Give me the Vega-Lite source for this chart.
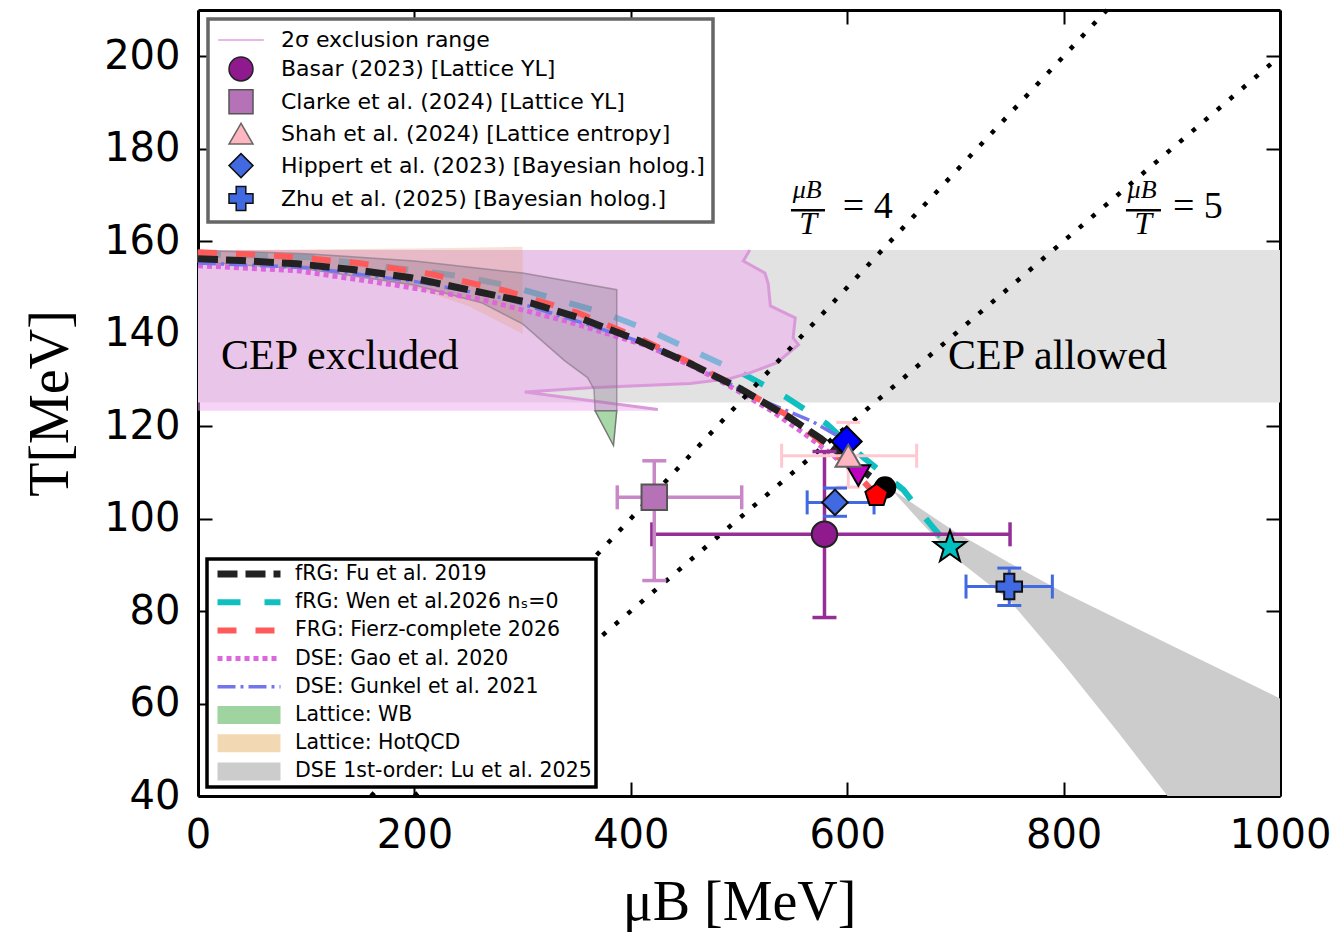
{
  "$schema": "https://vega.github.io/schema/vega-lite/v6.json",
  "width": 1082,
  "height": 786,
  "autosize": {"type": "none"},
  "padding": {"left": 198, "top": 10, "right": 55, "bottom": 137},
  "background": "white",
  "config": {"view": {"stroke": null}, "axis": {"grid": false}, "legend": {"strokeWidth": 3.5}},
  "datasets": {
    "band": [{"mu0": 0, "mu1": 1000, "T0": 125.1, "T1": 158.1}],
    "fu": [{"mu":0,"T":156.2},{"mu":40,"T":155.8},{"mu":92,"T":155.1},{"mu":145,"T":153.8},{"mu":197,"T":152.1},{"mu":252,"T":149.4},{"mu":308,"T":146.6},{"mu":354,"T":143.3},{"mu":407,"T":138.5},{"mu":455,"T":133.5},{"mu":501,"T":128.1},{"mu":547,"T":121.8},{"mu":575,"T":117.4},{"mu":605,"T":112.0},{"mu":635,"T":106.7}],
    "wen": [{"mu":0,"T":157.2},{"mu":58,"T":156.9},{"mu":102,"T":156.5},{"mu":166,"T":154.7},{"mu":240,"T":152.5},{"mu":287,"T":150.4},{"mu":376,"T":144.4},{"mu":418,"T":140.6},{"mu":461,"T":135.9},{"mu":503,"T":131.4},{"mu":544,"T":126.2},{"mu":581,"T":120.5},{"mu":615,"T":113.2},{"mu":652,"T":106.2},{"mu":676,"T":99.0},{"mu":695,"T":93.8}],
    "fz": [{"mu":0,"T":157.6},{"mu":46,"T":157.2},{"mu":80,"T":156.7},{"mu":148,"T":155.3},{"mu":215,"T":152.9},{"mu":284,"T":149.3},{"mu":351,"T":144.5},{"mu":409,"T":138.9},{"mu":455,"T":133.7},{"mu":500,"T":128.3},{"mu":545,"T":122.3},{"mu":575,"T":116.8},{"mu":605,"T":110.6},{"mu":627,"T":105.0}],
    "gao": [{"mu":0,"T":154.7},{"mu":92,"T":153.6},{"mu":185,"T":150.4},{"mu":262,"T":147.4},{"mu":339,"T":142.8},{"mu":416,"T":137.3},{"mu":460,"T":132.6},{"mu":494,"T":128.3},{"mu":530,"T":123.3},{"mu":559,"T":118.6},{"mu":585,"T":114.0},{"mu":610,"T":109.3}],
    "gun": [{"mu":0,"T":155.3},{"mu":100,"T":154.3},{"mu":200,"T":151.3},{"mu":280,"T":147.8},{"mu":340,"T":143.5},{"mu":416,"T":137.7},{"mu":460,"T":133.0},{"mu":519,"T":125.8},{"mu":568,"T":121.0},{"mu":600,"T":116.7}],
    "pinkpoly": [{"i":0,"mu":0,"T":158.1},{"i":1,"mu":510,"T":158.1},{"i":2,"mu":504,"T":155.7},{"i":3,"mu":524,"T":153.1},{"i":4,"mu":527,"T":150.8},{"i":5,"mu":529,"T":146.0},{"i":6,"mu":552,"T":143.4},{"i":7,"mu":550,"T":139.1},{"i":8,"mu":555,"T":137.6},{"i":9,"mu":535,"T":133.7},{"i":10,"mu":510,"T":131.5},{"i":11,"mu":492,"T":130.3},{"i":12,"mu":455,"T":129.2},{"i":13,"mu":362,"T":128.3},{"i":14,"mu":302,"T":127.4},{"i":15,"mu":425,"T":123.6},{"i":16,"mu":425,"T":123.3},{"i":17,"mu":0,"T":123.3}],
    "hotqcd": [{"mu":0,"lo":155.5,"hi":158.0},{"mu":50,"lo":155.2,"hi":158.1},{"mu":100,"lo":154.3,"hi":158.2},{"mu":150,"lo":152.6,"hi":158.3},{"mu":200,"lo":150.0,"hi":158.4},{"mu":250,"lo":146.0,"hi":158.6},{"mu":300,"lo":140.0,"hi":158.8}],
    "wbgrey": [{"i":0,"mu":0,"T":158.0},{"i":1,"mu":100,"T":157.3},{"i":2,"mu":200,"T":155.7},{"i":3,"mu":300,"T":153.1},{"i":4,"mu":387,"T":149.5},{"i":5,"mu":387,"T":123.3},{"i":6,"mu":367,"T":123.3},{"i":7,"mu":366,"T":128.0},{"i":8,"mu":360,"T":130.5},{"i":9,"mu":339,"T":134.1},{"i":10,"mu":300,"T":142.1},{"i":11,"mu":262,"T":146.7},{"i":12,"mu":200,"T":150.5},{"i":13,"mu":100,"T":154.0},{"i":14,"mu":0,"T":155.5}],
    "wbgreen": [{"i":0,"mu":367,"T":123.3},{"i":1,"mu":387,"T":123.3},{"i":2,"mu":384,"T":115.8}],
    "lu": [{"mu":640,"lo":106.5,"hi":106.5},{"mu":670,"lo":98.7,"hi":101.8},{"mu":700,"lo":91.5,"hi":97.1},{"mu":750,"lo":82.3,"hi":90.4},{"mu":800,"lo":68.5,"hi":84.0},{"mu":850,"lo":53.9,"hi":78.3},{"mu":896,"lo":40,"hi":73.0},{"mu":950,"lo":40,"hi":66.8},{"mu":1000,"lo":40,"hi":61.1}],
    "diag": [{"r":"4","mu":160,"T":40},{"r":"4","mu":840,"T":210},{"r":"5","mu":200,"T":40},{"r":"5","mu":1000,"T":200}],
    "pts": [
      {"k":"ba","src":"Basar (2023) [Lattice YL]","mu":579,"T":96.6,"mu_lo":419.5,"mu_hi":750.5,"T_lo":78.6,"T_hi":114.5},
      {"k":"cl","src":"Clarke et al. (2024) [Lattice YL]","mu":421.7,"T":104.6,"mu_lo":387.5,"mu_hi":502.5,"T_lo":86.6,"T_hi":112.5},
      {"k":"hi","src":"Hippert et al. (2023) [Bayesian holog.]","mu":588.7,"T":103.5,"mu_lo":563,"mu_hi":624.8,"T_lo":100.5,"T_hi":106.6},
      {"k":"zh","src":"Zhu et al. (2025) [Bayesian holog.]","mu":749.8,"T":85.3,"mu_lo":709.8,"mu_hi":789.6,"T_lo":81.2,"T_hi":89.3},
      {"k":"sh","src":"Shah et al. (2024) [Lattice entropy]","mu":601,"T":113.6,"mu_lo":539.4,"mu_hi":664.2,"T_lo":106.8,"T_hi":120.8}
    ],
    "ceps": [{"m":"gun","mu":599.5,"T":116.7},{"m":"gao","mu":610.3,"T":109.3},{"m":"fu","mu":635,"T":106.7},{"m":"fz","mu":627.2,"T":105.0},{"m":"wen","mu":695,"T":93.8}]
  },
  "resolve": {"axis": {"x": "independent", "y": "independent"}},
  "layer": [
    {
      "layer": [
        {
          "data": {"name": "band"},
          "mark": {"type": "rect", "color": "#e2e2e2"},
          "encoding": {
            "x": {"field": "mu0", "type": "quantitative", "scale": {"domain": [0, 1000], "nice": false, "zero": false},
              "axis": {"orient": "bottom", "values": [0, 200, 400, 600, 800, 1000], "format": "d", "title": "μB [MeV]", "titleFont": "Liberation Serif", "titleFontSize": 56, "titleFontWeight": "normal", "titleColor": "black", "titlePadding": 20, "labelFont": "DejaVu Sans", "labelFontSize": 40, "labelColor": "black", "labelPadding": 33, "labelFlush": false, "labelOverlap": false, "tickSize": -14, "tickWidth": 2, "tickColor": "black", "domain": true, "domainColor": "black", "domainWidth": 3}},
            "x2": {"field": "mu1"},
            "y": {"field": "T0", "type": "quantitative", "scale": {"domain": [40, 210], "nice": false, "zero": false},
              "axis": {"orient": "left", "values": [40, 60, 80, 100, 120, 140, 160, 180, 200], "format": "d", "title": "T[MeV]", "titleFont": "Liberation Serif", "titleFontSize": 56, "titleFontWeight": "normal", "titleColor": "black", "titlePadding": 24, "labelFont": "DejaVu Sans", "labelFontSize": 40, "labelColor": "black", "labelPadding": 32, "labelOverlap": false, "labelFlush": false, "tickSize": -14, "tickWidth": 2, "tickColor": "black", "domain": true, "domainColor": "black", "domainWidth": 3}},
            "y2": {"field": "T1"}
          }
        },
        {
          "data": {"name": "lu"},
          "mark": {"type": "area", "color": "#cccccc", "opacity": 1},
          "encoding": {"x": {"field": "mu", "type": "quantitative"}, "y": {"field": "lo", "type": "quantitative"}, "y2": {"field": "hi"}}
        },
        {
          "data": {"name": "wen"},
          "mark": {"type": "line"},
          "encoding": {
            "x": {"field": "mu", "type": "quantitative"},
            "y": {"field": "T", "type": "quantitative"},
            "color": {"datum": "fRG: Wen et al.2026 nₛ=0", "type": "nominal",
              "scale": {"domain": ["fRG: Fu et al. 2019", "fRG: Wen et al.2026 nₛ=0", "FRG: Fierz-complete 2026", "DSE: Gao et al. 2020", "DSE: Gunkel et al. 2021", "Lattice: WB", "Lattice: HotQCD", "DSE 1st-order: Lu et al. 2025"],
                "range": ["#222222", "#10bfbf", "#ff5a5a", "#dd66dd", "#7474ee", "#9fd39f", "#f2d9b3", "#cccccc"]},
              "legend": {
                "orient": "none", "legendX": 9, "legendY": 549, "title": null,
                "fillColor": "white", "strokeColor": "black", "padding": 4,
                "labelFont": "DejaVu Sans", "labelFontSize": 20.5, "labelColor": "black", "labelLimit": 600,
                "symbolType": "M-3.15,0L3.15,0", "symbolSize": 400, "clipHeight": 22, "rowPadding": 6.2, "symbolOffset": 19, "labelOffset": 27
              }
            },
            "strokeDash": {"datum": "fRG: Wen et al.2026 nₛ=0", "type": "nominal",
              "scale": {"domain": ["fRG: Fu et al. 2019", "fRG: Wen et al.2026 nₛ=0", "FRG: Fierz-complete 2026", "DSE: Gao et al. 2020", "DSE: Gunkel et al. 2021", "Lattice: WB", "Lattice: HotQCD", "DSE 1st-order: Lu et al. 2025"],
                "range": [[20, 8], [23, 24], [19, 19], [5, 4], [18, 5, 3, 5], [1, 0], [1, 0], [1, 0]]}},
            "strokeWidth": {"datum": "fRG: Wen et al.2026 nₛ=0", "type": "nominal",
              "scale": {"type": "ordinal", "domain": ["fRG: Fu et al. 2019", "fRG: Wen et al.2026 nₛ=0", "FRG: Fierz-complete 2026", "DSE: Gao et al. 2020", "DSE: Gunkel et al. 2021", "Lattice: WB", "Lattice: HotQCD", "DSE 1st-order: Lu et al. 2025"],
                "range": [7, 6, 6, 5, 3.5, 18, 18, 18]}}
          }
        },
        {
          "data": {"name": "pinkpoly"},
          "mark": {"type": "line", "interpolate": "linear-closed", "fill": "#f0a8f0", "opacity": 0.5, "strokeWidth": 0},
          "encoding": {"x": {"field": "mu", "type": "quantitative"}, "y": {"field": "T", "type": "quantitative"}, "order": {"field": "i", "type": "quantitative"}}
        },
        {
          "data": {"name": "pinkpoly"},
          "transform": [{"filter": "datum.i >= 1 && datum.i <= 15"}],
          "mark": {"type": "line", "color": "#da9ada", "strokeWidth": 3},
          "encoding": {"x": {"field": "mu", "type": "quantitative"}, "y": {"field": "T", "type": "quantitative"}, "order": {"field": "i", "type": "quantitative"}}
        },
        {
          "data": {"name": "hotqcd"},
          "mark": {"type": "area", "color": "#e8a080", "opacity": 0.33},
          "encoding": {"x": {"field": "mu", "type": "quantitative"}, "y": {"field": "lo", "type": "quantitative"}, "y2": {"field": "hi"}}
        },
        {
          "data": {"name": "wbgrey"},
          "mark": {"type": "line", "interpolate": "linear-closed", "fill": "#7a6a80", "fillOpacity": 0.3, "stroke": "#8a7a8a", "strokeWidth": 1.5, "strokeOpacity": 0.7},
          "encoding": {"x": {"field": "mu", "type": "quantitative"}, "y": {"field": "T", "type": "quantitative"}, "order": {"field": "i", "type": "quantitative"}}
        },
        {
          "data": {"name": "wbgreen"},
          "mark": {"type": "line", "interpolate": "linear-closed", "fill": "#9fd39f", "fillOpacity": 0.9, "stroke": "#777777", "strokeWidth": 1.5},
          "encoding": {"x": {"field": "mu", "type": "quantitative"}, "y": {"field": "T", "type": "quantitative"}, "order": {"field": "i", "type": "quantitative"}}
        },
        {
          "data": {"name": "gao"},
          "mark": {"type": "line"},
          "encoding": {"x": {"field": "mu", "type": "quantitative"}, "y": {"field": "T", "type": "quantitative"},
            "color": {"datum": "DSE: Gao et al. 2020", "type": "nominal"},
            "strokeDash": {"datum": "DSE: Gao et al. 2020", "type": "nominal"},
            "strokeWidth": {"datum": "DSE: Gao et al. 2020", "type": "nominal",
              "scale": {"type": "ordinal", "domain": ["fRG: Fu et al. 2019", "fRG: Wen et al.2026 nₛ=0", "FRG: Fierz-complete 2026", "DSE: Gao et al. 2020", "DSE: Gunkel et al. 2021", "Lattice: WB", "Lattice: HotQCD", "DSE 1st-order: Lu et al. 2025"],
                "range": [7, 6, 6, 5, 3.5, 18, 18, 18]}}}
        },
        {
          "data": {"name": "gun"},
          "mark": {"type": "line"},
          "encoding": {"x": {"field": "mu", "type": "quantitative"}, "y": {"field": "T", "type": "quantitative"},
            "color": {"datum": "DSE: Gunkel et al. 2021", "type": "nominal"},
            "strokeDash": {"datum": "DSE: Gunkel et al. 2021", "type": "nominal"},
            "strokeWidth": {"datum": "DSE: Gunkel et al. 2021", "type": "nominal",
              "scale": {"type": "ordinal", "domain": ["fRG: Fu et al. 2019", "fRG: Wen et al.2026 nₛ=0", "FRG: Fierz-complete 2026", "DSE: Gao et al. 2020", "DSE: Gunkel et al. 2021", "Lattice: WB", "Lattice: HotQCD", "DSE 1st-order: Lu et al. 2025"],
                "range": [7, 6, 6, 5, 3.5, 18, 18, 18]}}}
        },
        {
          "data": {"name": "fz"},
          "mark": {"type": "line"},
          "encoding": {"x": {"field": "mu", "type": "quantitative"}, "y": {"field": "T", "type": "quantitative"},
            "color": {"datum": "FRG: Fierz-complete 2026", "type": "nominal"},
            "strokeDash": {"datum": "FRG: Fierz-complete 2026", "type": "nominal"},
            "strokeWidth": {"datum": "FRG: Fierz-complete 2026", "type": "nominal",
              "scale": {"type": "ordinal", "domain": ["fRG: Fu et al. 2019", "fRG: Wen et al.2026 nₛ=0", "FRG: Fierz-complete 2026", "DSE: Gao et al. 2020", "DSE: Gunkel et al. 2021", "Lattice: WB", "Lattice: HotQCD", "DSE 1st-order: Lu et al. 2025"],
                "range": [7, 6, 6, 5, 3.5, 18, 18, 18]}}}
        },
        {
          "data": {"name": "fu"},
          "mark": {"type": "line"},
          "encoding": {"x": {"field": "mu", "type": "quantitative"}, "y": {"field": "T", "type": "quantitative"},
            "color": {"datum": "fRG: Fu et al. 2019", "type": "nominal"},
            "strokeDash": {"datum": "fRG: Fu et al. 2019", "type": "nominal"},
            "strokeWidth": {"datum": "fRG: Fu et al. 2019", "type": "nominal",
              "scale": {"type": "ordinal", "domain": ["fRG: Fu et al. 2019", "fRG: Wen et al.2026 nₛ=0", "FRG: Fierz-complete 2026", "DSE: Gao et al. 2020", "DSE: Gunkel et al. 2021", "Lattice: WB", "Lattice: HotQCD", "DSE 1st-order: Lu et al. 2025"],
                "range": [7, 6, 6, 5, 3.5, 18, 18, 18]}}}
        },
        {
          "data": {"name": "diag"},
          "mark": {"type": "line", "color": "black", "strokeWidth": 4.5, "strokeDash": [4.5, 12]},
          "encoding": {"x": {"field": "mu", "type": "quantitative"}, "y": {"field": "T", "type": "quantitative"}, "detail": {"field": "r"}}
        },
        {
          "data": {"name": "pts"},
          "transform": [{"filter": "datum.k == 'ba'"}],
          "layer": [
            {"mark": {"type": "rule", "color": "#952f95", "strokeWidth": 3.5}, "encoding": {"x": {"field": "mu_lo", "type": "quantitative"}, "x2": {"field": "mu_hi"}, "y": {"field": "T", "type": "quantitative"}}},
            {"mark": {"type": "rule", "color": "#952f95", "strokeWidth": 3.5}, "encoding": {"x": {"field": "mu", "type": "quantitative"}, "y": {"field": "T_lo", "type": "quantitative"}, "y2": {"field": "T_hi"}}},
            {"transform": [{"fold": ["mu_lo", "mu_hi"], "as": ["kx", "vx"]}], "mark": {"type": "point", "shape": "stroke", "angle": 90, "size": 576, "color": "#952f95", "strokeWidth": 3.5, "filled": false, "opacity": 1}, "encoding": {"x": {"field": "vx", "type": "quantitative"}, "y": {"field": "T", "type": "quantitative"}}},
            {"transform": [{"fold": ["T_lo", "T_hi"], "as": ["ky", "vy"]}], "mark": {"type": "point", "shape": "stroke", "size": 576, "color": "#952f95", "strokeWidth": 3.5, "filled": false, "opacity": 1}, "encoding": {"x": {"field": "mu", "type": "quantitative"}, "y": {"field": "vy", "type": "quantitative"}}}
          ]
        },
        {
          "data": {"name": "pts"},
          "transform": [{"filter": "datum.k == 'cl'"}],
          "layer": [
            {"mark": {"type": "rule", "color": "#c888c8", "strokeWidth": 3.5}, "encoding": {"x": {"field": "mu_lo", "type": "quantitative"}, "x2": {"field": "mu_hi"}, "y": {"field": "T", "type": "quantitative"}}},
            {"mark": {"type": "rule", "color": "#c888c8", "strokeWidth": 3.5}, "encoding": {"x": {"field": "mu", "type": "quantitative"}, "y": {"field": "T_lo", "type": "quantitative"}, "y2": {"field": "T_hi"}}},
            {"transform": [{"fold": ["mu_lo", "mu_hi"], "as": ["kx", "vx"]}], "mark": {"type": "point", "shape": "stroke", "angle": 90, "size": 576, "color": "#c888c8", "strokeWidth": 3.5, "filled": false, "opacity": 1}, "encoding": {"x": {"field": "vx", "type": "quantitative"}, "y": {"field": "T", "type": "quantitative"}}},
            {"transform": [{"fold": ["T_lo", "T_hi"], "as": ["ky", "vy"]}], "mark": {"type": "point", "shape": "stroke", "size": 576, "color": "#c888c8", "strokeWidth": 3.5, "filled": false, "opacity": 1}, "encoding": {"x": {"field": "mu", "type": "quantitative"}, "y": {"field": "vy", "type": "quantitative"}}}
          ]
        },
        {
          "data": {"name": "pts"},
          "transform": [{"filter": "datum.k == 'sh'"}],
          "layer": [
            {"mark": {"type": "rule", "color": "#ffc8d0", "strokeWidth": 3}, "encoding": {"x": {"field": "mu_lo", "type": "quantitative"}, "x2": {"field": "mu_hi"}, "y": {"field": "T", "type": "quantitative"}}},
            {"mark": {"type": "rule", "color": "#ffc8d0", "strokeWidth": 3}, "encoding": {"x": {"field": "mu", "type": "quantitative"}, "y": {"field": "T_lo", "type": "quantitative"}, "y2": {"field": "T_hi"}}},
            {"transform": [{"fold": ["mu_lo", "mu_hi"], "as": ["kx", "vx"]}], "mark": {"type": "point", "shape": "stroke", "angle": 90, "size": 576, "color": "#ffc8d0", "strokeWidth": 3, "filled": false, "opacity": 1}, "encoding": {"x": {"field": "vx", "type": "quantitative"}, "y": {"field": "T", "type": "quantitative"}}},
            {"transform": [{"fold": ["T_lo", "T_hi"], "as": ["ky", "vy"]}], "mark": {"type": "point", "shape": "stroke", "size": 576, "color": "#ffc8d0", "strokeWidth": 3, "filled": false, "opacity": 1}, "encoding": {"x": {"field": "mu", "type": "quantitative"}, "y": {"field": "vy", "type": "quantitative"}}}
          ]
        },
        {
          "data": {"name": "pts"},
          "transform": [{"filter": "datum.k == 'hi' || datum.k == 'zh'"}],
          "layer": [
            {"mark": {"type": "rule", "color": "#4169e1", "strokeWidth": 3}, "encoding": {"x": {"field": "mu_lo", "type": "quantitative"}, "x2": {"field": "mu_hi"}, "y": {"field": "T", "type": "quantitative"}}},
            {"mark": {"type": "rule", "color": "#4169e1", "strokeWidth": 3}, "encoding": {"x": {"field": "mu", "type": "quantitative"}, "y": {"field": "T_lo", "type": "quantitative"}, "y2": {"field": "T_hi"}}},
            {"transform": [{"fold": ["mu_lo", "mu_hi"], "as": ["kx", "vx"]}], "mark": {"type": "point", "shape": "stroke", "angle": 90, "size": 576, "color": "#4169e1", "strokeWidth": 3, "filled": false, "opacity": 1}, "encoding": {"x": {"field": "vx", "type": "quantitative"}, "y": {"field": "T", "type": "quantitative"}}},
            {"transform": [{"fold": ["T_lo", "T_hi"], "as": ["ky", "vy"]}], "mark": {"type": "point", "shape": "stroke", "size": 576, "color": "#4169e1", "strokeWidth": 3, "filled": false, "opacity": 1}, "encoding": {"x": {"field": "mu", "type": "quantitative"}, "y": {"field": "vy", "type": "quantitative"}}}
          ]
        },
        {
          "data": {"name": "ceps"},
          "transform": [{"filter": "datum.m == 'gun'"}],
          "mark": {"type": "point", "shape": "diamond", "filled": true, "fill": "#0000ff", "stroke": "black", "strokeWidth": 2, "size": 900, "opacity": 1},
          "encoding": {"x": {"field": "mu", "type": "quantitative"}, "y": {"field": "T", "type": "quantitative"}}
        },
        {
          "data": {"name": "ceps"},
          "transform": [{"filter": "datum.m == 'gao'"}],
          "mark": {"type": "point", "shape": "triangle-down", "filled": true, "fill": "#c000c0", "stroke": "black", "strokeWidth": 2, "size": 560, "opacity": 1},
          "encoding": {"x": {"field": "mu", "type": "quantitative"}, "y": {"field": "T", "type": "quantitative"}}
        },
        {
          "data": {"name": "ceps"},
          "transform": [{"filter": "datum.m == 'fu'"}],
          "mark": {"type": "point", "shape": "circle", "filled": true, "fill": "black", "stroke": "black", "strokeWidth": 2, "size": 420, "opacity": 1},
          "encoding": {"x": {"field": "mu", "type": "quantitative"}, "y": {"field": "T", "type": "quantitative"}}
        },
        {
          "data": {"name": "ceps"},
          "transform": [{"filter": "datum.m == 'fz'"}],
          "mark": {"type": "point", "shape": "M0,-1L0.951,-0.309L0.588,0.809L-0.588,0.809L-0.951,-0.309Z", "filled": true, "fill": "#ff0000", "stroke": "black", "strokeWidth": 2, "size": 560, "opacity": 1},
          "encoding": {"x": {"field": "mu", "type": "quantitative"}, "y": {"field": "T", "type": "quantitative"}}
        },
        {
          "data": {"name": "ceps"},
          "transform": [{"filter": "datum.m == 'wen'"}],
          "mark": {"type": "point", "shape": "M0,-1L0.235,-0.324L0.951,-0.309L0.38,0.124L0.588,0.809L0,0.4L-0.588,0.809L-0.38,0.124L-0.951,-0.309L-0.235,-0.324Z", "filled": true, "fill": "#00bfbf", "stroke": "black", "strokeWidth": 2, "size": 1150, "opacity": 1},
          "encoding": {"x": {"field": "mu", "type": "quantitative"}, "y": {"field": "T", "type": "quantitative"}}
        },
        {
          "data": {"name": "pts"},
          "mark": {"type": "point", "filled": true, "strokeWidth": 2, "size": 650, "opacity": 1},
          "encoding": {
            "x": {"field": "mu", "type": "quantitative"},
            "y": {"field": "T", "type": "quantitative"},
            "shape": {"field": "src", "type": "nominal",
              "scale": {"domain": ["2σ exclusion range", "Basar (2023) [Lattice YL]", "Clarke et al. (2024) [Lattice YL]", "Shah et al. (2024) [Lattice entropy]", "Hippert et al. (2023) [Bayesian holog.]", "Zhu et al. (2025) [Bayesian holog.]"],
                "range": ["M-1.9,0L1.9,0", "circle", "square", "triangle-up", "diamond", "cross"]},
              "legend": {
                "orient": "none", "legendX": 10, "legendY": 9, "title": null,
                "fillColor": "white", "strokeColor": "#666666", "padding": 8,
                "labelFont": "DejaVu Sans", "labelFontSize": 22, "labelColor": "black", "labelLimit": 700,
                "symbolSize": 576, "rowPadding": 2.9, "symbolOffset": 12, "labelOffset": 27
              }
            },
            "fill": {"field": "src", "type": "nominal",
              "scale": {"domain": ["2σ exclusion range", "Basar (2023) [Lattice YL]", "Clarke et al. (2024) [Lattice YL]", "Shah et al. (2024) [Lattice entropy]", "Hippert et al. (2023) [Bayesian holog.]", "Zhu et al. (2025) [Bayesian holog.]"],
                "range": ["#dda0dd", "#8e1a8e", "#b672b6", "#ffb6c1", "#4169e1", "#4169e1"]}},
            "stroke": {"field": "src", "type": "nominal",
              "scale": {"domain": ["2σ exclusion range", "Basar (2023) [Lattice YL]", "Clarke et al. (2024) [Lattice YL]", "Shah et al. (2024) [Lattice entropy]", "Hippert et al. (2023) [Bayesian holog.]", "Zhu et al. (2025) [Bayesian holog.]"],
                "range": ["#dda0dd", "#222222", "#555555", "#666666", "#111111", "#111111"]}}
          }
        },
        {
          "data": {"values": [{"t": "CEP excluded", "mu": 21.3, "T": 132.4}, {"t": "CEP allowed", "mu": 693.2, "T": 132.4}]},
          "mark": {"type": "text", "font": "Liberation Serif", "fontSize": 42, "align": "left", "baseline": "alphabetic", "color": "black"},
          "encoding": {"x": {"field": "mu", "type": "quantitative"}, "y": {"field": "T", "type": "quantitative"}, "text": {"field": "t"}}
        },
        {
          "data": {"values": [{"t": "μB", "mu": 563, "T": 169.3}, {"t": "μB", "mu": 872.5, "T": 169.3}]},
          "mark": {"type": "text", "font": "Liberation Serif", "fontStyle": "italic", "fontSize": 26, "align": "center", "baseline": "alphabetic", "color": "black"},
          "encoding": {"x": {"field": "mu", "type": "quantitative"}, "y": {"field": "T", "type": "quantitative"}, "text": {"field": "t"}}
        },
        {
          "data": {"values": [{"t": "T", "mu": 564, "T": 161.6}, {"t": "T", "mu": 873.5, "T": 161.6}]},
          "mark": {"type": "text", "font": "Liberation Serif", "fontStyle": "italic", "fontSize": 32, "align": "center", "baseline": "alphabetic", "color": "black"},
          "encoding": {"x": {"field": "mu", "type": "quantitative"}, "y": {"field": "T", "type": "quantitative"}, "text": {"field": "t"}}
        },
        {
          "data": {"values": [{"t": "= 4", "mu": 596, "T": 165.0}, {"t": "= 5", "mu": 901, "T": 165.0}]},
          "mark": {"type": "text", "font": "Liberation Serif", "fontSize": 38, "align": "left", "baseline": "alphabetic", "color": "black"},
          "encoding": {"x": {"field": "mu", "type": "quantitative"}, "y": {"field": "T", "type": "quantitative"}, "text": {"field": "t"}}
        },
        {
          "data": {"values": [{"a": 548, "b": 579.5, "T": 166.7}, {"a": 857.6, "b": 890, "T": 166.7}]},
          "mark": {"type": "rule", "color": "black", "strokeWidth": 2.5},
          "encoding": {"x": {"field": "a", "type": "quantitative"}, "x2": {"field": "b"}, "y": {"field": "T", "type": "quantitative"}}
        }
      ]
    },
    {
      "data": {"values": [{"mu": 0, "T": 40}]},
      "mark": {"type": "point", "opacity": 0},
      "encoding": {
        "x": {"field": "mu", "type": "quantitative", "axis": {"orient": "top", "values": [0, 200, 400, 600, 800, 1000], "labels": false, "title": null, "tickSize": -14, "tickWidth": 2, "tickColor": "black", "domain": true, "domainColor": "black", "domainWidth": 3}},
        "y": {"field": "T", "type": "quantitative", "axis": {"orient": "right", "values": [40, 60, 80, 100, 120, 140, 160, 180, 200], "labels": false, "title": null, "tickSize": -14, "tickWidth": 2, "tickColor": "black", "domain": true, "domainColor": "black", "domainWidth": 3}}
      }
    }
  ]
}
